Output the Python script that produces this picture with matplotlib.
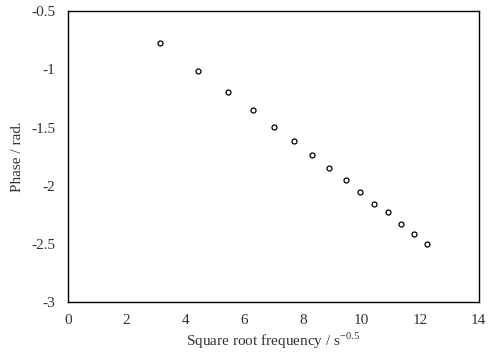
import matplotlib.pyplot as plt

# (roughly sqrt of 10..150 Hz)
sqrt_freq = [3.15, 4.44, 5.47, 6.32, 7.03, 7.72, 8.33, 8.91, 9.46, 9.97, 10.44, 10.92, 11.36, 11.81, 12.22]
phase = [-0.775, -1.013, -1.197, -1.351, -1.495, -1.615, -1.736, -1.85, -1.953, -2.056, -2.16, -2.228, -2.331, -2.417, -2.503]

plt.rcParams['font.family'] = ['Liberation Serif', 'DejaVu Serif']
plt.rcParams['mathtext.fontset'] = 'custom'
plt.rcParams['mathtext.rm'] = 'Liberation Serif'
txt = '#333333'

fig = plt.figure(figsize=(4.98, 3.54), dpi=100)
ax = fig.add_axes([0.1365, 0.147, 0.8248, 0.821])
ax.plot(sqrt_freq, phase, 'o', ms=3.6, mfc='white', mec='black', mew=0.9, ls='none')

ax.set_xlim(0, 14)
ax.set_ylim(-3, -0.5)
ax.set_xticks(range(0, 15, 2))
ax.set_yticks([-3, -2.5, -2, -1.5, -1, -0.5])
ax.set_yticklabels(['-3', '-2.5', '-2', '-1.5', '-1', '-0.5'])
ax.tick_params(length=0, labelsize=11, colors=txt, pad=9)
for s in ax.spines.values():
    s.set_linewidth(1.0)
    s.set_color('black')

ax.set_xlabel(r'Square root frequency / s$^{\mathrm{-0.5}}$', fontsize=11, color=txt, labelpad=2)
ax.set_ylabel('Phase / rad.', fontsize=11, color=txt, labelpad=5)

fig.savefig('out.png', dpi=100)
plt.close()
